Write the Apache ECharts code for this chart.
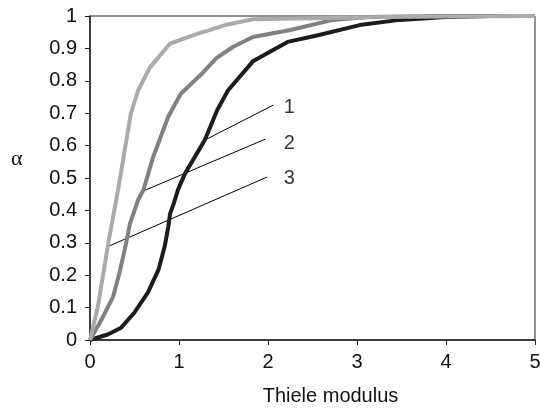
<!DOCTYPE html>
<html>
<head>
<meta charset="utf-8">
<script src="https://cdn.jsdelivr.net/npm/echarts@6/dist/echarts.min.js"></script>
<style>
  html, body { margin: 0; padding: 0; background: #fff; }
  #chart { width: 540px; height: 408px; }
</style>
</head>
<body>
<div id="chart"></div>
<script>
// curve 1 (black)
const x1 = [0, 0.2, 0.35, 0.5, 0.65, 0.77, 0.84, 0.88, 0.9, 0.94, 0.99, 1.07, 1.29, 1.43, 1.55, 1.83, 2.22, 2.55, 3.03, 3.48, 4, 4.5, 5];
const y1 = [0, 0.017, 0.038, 0.085, 0.146, 0.217, 0.29, 0.35, 0.39, 0.42, 0.465, 0.515, 0.617, 0.71, 0.77, 0.86, 0.92, 0.94, 0.972, 0.988, 0.997, 1, 1];
// curve 2 (medium grey)
const x2 = [0, 0.13, 0.26, 0.33, 0.39, 0.45, 0.54, 0.6, 0.71, 0.88, 0.92, 1.02, 1.25, 1.42, 1.61, 1.83, 2.25, 2.73, 3.11, 4, 5];
const y2 = [0, 0.063, 0.134, 0.206, 0.278, 0.36, 0.432, 0.463, 0.565, 0.69, 0.71, 0.76, 0.82, 0.87, 0.905, 0.935, 0.957, 0.988, 0.997, 1, 1];
// curve 3 (light grey)
const x3 = [0, 0.09, 0.2, 0.316, 0.46, 0.54, 0.67, 0.9, 1.1, 1.24, 1.52, 1.83, 2.5, 3.5, 5];
const y3 = [0, 0.105, 0.29, 0.465, 0.7, 0.77, 0.84, 0.915, 0.935, 0.948, 0.972, 0.99, 0.993, 0.998, 1];

// pointer lines from the labels to the curves
const pointers = [
  [[2.06, 0.725], [1.29, 0.617]],
  [[1.97, 0.62], [0.6, 0.46]],
  [[1.99, 0.503], [0.19, 0.287]]
];
const curveNames = ['1', '2', '3'];
const labelPos = [[2.24, 0.719], [2.24, 0.608], [2.24, 0.5]];

const font = 'Liberation Sans, Arial, sans-serif';
const zip = (xs, ys) => xs.map((x, i) => [x, ys[i]]);

const curve = (data, color) => ({
  type: 'line',
  data: data,
  symbol: 'none',
  clip: false,
  silent: true,
  lineStyle: { color: color, width: 4, join: 'round' }
});

const series = pointers.map(p => ({
  type: 'line',
  data: p,
  symbol: 'none',
  silent: true,
  lineStyle: { color: '#000', width: 1 }
}));

series.push(curve(zip(x1, y1), '#1c1c1c'));
series.push(curve(zip(x2, y2), '#808080'));
series.push(curve(zip(x3, y3), '#ababab'));

series.push({
  type: 'scatter',
  symbolSize: 0,
  silent: true,
  data: labelPos.map((p, i) => ({ value: p, name: curveNames[i] })),
  label: {
    show: true,
    position: 'inside',
    formatter: '{b}',
    color: '#000',
    fontSize: 20,
    fontFamily: font
  }
});

const chart = echarts.init(document.getElementById('chart'));
chart.setOption({
  backgroundColor: '#fff',
  animation: false,
  grid: {
    left: 90, right: 5, top: 16, bottom: 68,
    outerBoundsMode: 'none',
    containLabel: false,
    show: true, borderColor: '#222', borderWidth: 1
  },
  xAxis: {
    type: 'value',
    min: 0, max: 5, interval: 1,
    name: 'Thiele modulus',
    nameLocation: 'middle',
    nameGap: 46,
    nameTextStyle: { color: '#111', fontSize: 20, fontFamily: font, padding: [0, 0, 0, 36] },
    axisLine: { lineStyle: { color: '#222', width: 1.5 } },
    axisTick: { length: 5, lineStyle: { color: '#222' } },
    axisLabel: { color: '#111', fontSize: 20, fontFamily: font, margin: 12 },
    splitLine: { show: false }
  },
  yAxis: {
    type: 'value',
    min: 0, max: 1, interval: 0.1,
    axisLine: { show: true, lineStyle: { color: '#222', width: 1.5 } },
    axisTick: { show: true, length: 5, lineStyle: { color: '#222' } },
    axisLabel: { color: '#111', fontSize: 20, fontFamily: font, margin: 13 },
    splitLine: { show: false }
  },
  graphic: [{
    type: 'text',
    left: 11,
    top: 148,
    style: { text: 'α', fill: '#111', fontSize: 22, fontFamily: 'Liberation Serif, serif' }
  }],
  series: series
});
window.onresize = function () {
  chart.resize();
};
</script>
</body>
</html>
